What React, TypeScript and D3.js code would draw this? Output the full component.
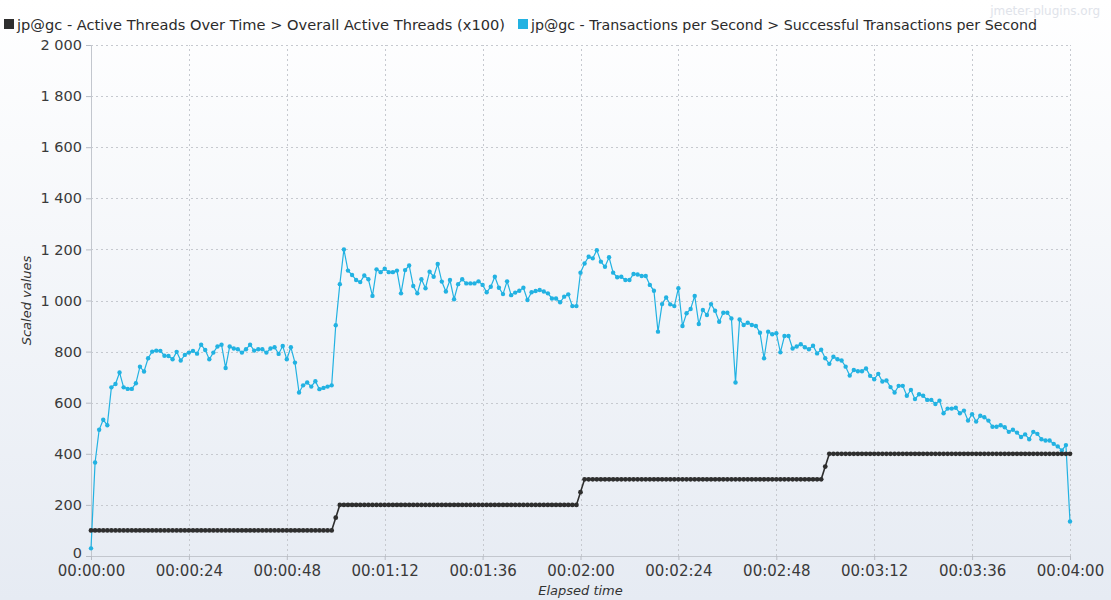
import React, { useEffect, useRef } from 'react'
import * as d3 from 'd3'

// one sample per second, 00:00:00 .. 00:04:00
const sampleStep = 1

// jp@gc - Transactions per Second > Successful Transactions per Second
const successfulTps = [
  30, 366, 494, 533, 512, 660, 673, 718, 660, 654,
  654, 676, 741, 722, 774, 800, 804, 803, 784, 783,
  770, 799, 765, 787, 796, 803, 792, 827, 806, 770,
  796, 820, 827, 736, 820, 812, 809, 796, 809, 827,
  804, 809, 809, 796, 812, 817, 791, 822, 770, 817,
  757, 640, 668, 679, 663, 684, 653, 658, 663, 668,
  903, 1064, 1200, 1117, 1100, 1080, 1072, 1098, 1083, 1018,
  1122, 1111, 1124, 1111, 1111, 1117, 1028, 1119, 1137, 1057,
  1028, 1083, 1048, 1113, 1093, 1143, 1074, 1035, 1080, 1005,
  1064, 1083, 1067, 1067, 1067, 1075, 1061, 1032, 1054, 1093,
  1050, 1025, 1075, 1021, 1031, 1038, 1050, 1002, 1032, 1037,
  1041, 1035, 1028, 1008, 1008, 993, 1015, 1024, 978, 978,
  1109, 1145, 1171, 1165, 1197, 1152, 1132, 1169, 1109, 1091,
  1093, 1080, 1080, 1104, 1102, 1096, 1096, 1061, 1038, 878,
  986, 1012, 985, 978, 1048, 900, 950, 967, 1018, 908,
  963, 943, 986, 960, 917, 952, 952, 930, 679, 926,
  904, 913, 904, 900, 874, 774, 878, 868, 872, 797,
  861, 861, 812, 820, 829, 817, 809, 823, 793, 807,
  774, 752, 780, 770, 765, 741, 706, 728, 723, 723,
  734, 705, 692, 713, 683, 687, 661, 640, 666, 666,
  627, 650, 614, 633, 627, 611, 611, 595, 608, 559,
  577, 577, 580, 559, 569, 530, 555, 526, 549, 543,
  530, 506, 506, 512, 504, 486, 494, 483, 466, 476,
  457, 486, 478, 457, 452, 452, 439, 429, 413, 434,
  135,
]

// jp@gc - Active Threads Over Time > Overall Active Threads (x100)
const activeThreads = [
  100, 100, 100, 100, 100, 100, 100, 100, 100, 100, 100, 100, 100, 100, 100, 100, 100, 100, 100, 100,
  100, 100, 100, 100, 100, 100, 100, 100, 100, 100, 100, 100, 100, 100, 100, 100, 100, 100, 100, 100,
  100, 100, 100, 100, 100, 100, 100, 100, 100, 100, 100, 100, 100, 100, 100, 100, 100, 100, 100, 100,
  150, 200, 200, 200, 200, 200, 200, 200, 200, 200, 200, 200, 200, 200, 200, 200, 200, 200, 200, 200,
  200, 200, 200, 200, 200, 200, 200, 200, 200, 200, 200, 200, 200, 200, 200, 200, 200, 200, 200, 200,
  200, 200, 200, 200, 200, 200, 200, 200, 200, 200, 200, 200, 200, 200, 200, 200, 200, 200, 200, 200,
  250, 300, 300, 300, 300, 300, 300, 300, 300, 300, 300, 300, 300, 300, 300, 300, 300, 300, 300, 300,
  300, 300, 300, 300, 300, 300, 300, 300, 300, 300, 300, 300, 300, 300, 300, 300, 300, 300, 300, 300,
  300, 300, 300, 300, 300, 300, 300, 300, 300, 300, 300, 300, 300, 300, 300, 300, 300, 300, 300, 300,
  350, 400, 400, 400, 400, 400, 400, 400, 400, 400, 400, 400, 400, 400, 400, 400, 400, 400, 400, 400,
  400, 400, 400, 400, 400, 400, 400, 400, 400, 400, 400, 400, 400, 400, 400, 400, 400, 400, 400, 400,
  400, 400, 400, 400, 400, 400, 400, 400, 400, 400, 400, 400, 400, 400, 400, 400, 400, 400, 400, 400,
  400,
]

const legendLabels = [
  'jp@gc - Active Threads Over Time > Overall Active Threads (x100)',
  'jp@gc - Transactions per Second > Successful Transactions per Second',
]
const seriesColors = ['#2e2e2e', '#22b2e2']

const yTicks = [0, 200, 400, 600, 800, 1000, 1200, 1400, 1600, 1800, 2000]
const xTicks = [0, 24, 48, 72, 96, 120, 144, 168, 192, 216, 240]

const W = 1111
const H = 600
const FONT = '"DejaVu Sans", Verdana, sans-serif'

export default function App() {
  const svgRef = useRef<SVGSVGElement>(null)

  useEffect(() => {
    const svg = d3.select(svgRef.current)
    svg.selectAll('*').remove()

    // background gradient
    const grad = svg.append('defs').append('linearGradient')
      .attr('id', 'bg').attr('x1', 0).attr('y1', 0).attr('x2', 0).attr('y2', 1)
    grad.append('stop').attr('offset', '0%').attr('stop-color', '#ffffff')
    grad.append('stop').attr('offset', '100%').attr('stop-color', '#e6ebf3')
    svg.append('rect').attr('width', W).attr('height', H).attr('fill', 'url(#bg)')

    const x = d3.scaleLinear().domain([0, 240]).range([91, 1070])
    const y = d3.scaleLinear().domain([0, 2000]).range([556, 45])

    const spaced = d3.formatLocale({ decimal: '.', thousands: ' ', grouping: [3], currency: ['', ''] }).format(',')
    const hms = (s: number) => {
      const p = (n: number) => String(n).padStart(2, '0')
      return `${p(Math.floor(s / 3600))}:${p(Math.floor((s % 3600) / 60))}:${p(s % 60)}`
    }

    // grid
    const grid = svg.append('g').attr('stroke', '#c6c9cf').attr('stroke-dasharray', '2,3').attr('stroke-width', 1)
    grid.selectAll('.h').data(yTicks.filter(d => d > 0)).join('line')
      .attr('x1', x(0)).attr('x2', x(240))
      .attr('y1', d => Math.round(y(d)) + 0.5).attr('y2', d => Math.round(y(d)) + 0.5)
    grid.selectAll('.v').data(xTicks.filter(d => d > 0)).join('line')
      .attr('y1', y(0)).attr('y2', y(2000))
      .attr('x1', d => Math.round(x(d)) + 0.5).attr('x2', d => Math.round(x(d)) + 0.5)

    // axes
    const yAxis = d3.axisLeft(y).tickValues(yTicks).tickSize(5).tickSizeOuter(0).tickPadding(4)
      .tickFormat(d => spaced(d as number))
    const gy = svg.append('g').attr('transform', `translate(${x(0)},0)`).call(yAxis)
    const xAxis = d3.axisBottom(x).tickValues(xTicks).tickSize(4).tickSizeOuter(0).tickPadding(5)
      .tickFormat(d => hms(d as number))
    const gx = svg.append('g').attr('transform', `translate(0,${y(0)})`).call(xAxis)
    ;[gx, gy].forEach(g => {
      g.select('.domain').attr('stroke', '#c3c7ce')
      g.selectAll('.tick line').attr('stroke', '#b8bcc4')
      g.selectAll('.tick text').attr('fill', '#3a3a3a').style('font-family', FONT)
    })
    gy.selectAll('.tick text').style('font-size', '14.5px')
    // the zero label sits a little higher so it clears the time labels
    gy.selectAll<SVGTextElement, number>('.tick text').filter(d => d === 0).attr('dy', '0.1em')
    gx.selectAll('.tick text').style('font-size', '15px')

    // axis titles
    svg.append('text')
      .attr('transform', `translate(31,${(y(0) + y(2000)) / 2}) rotate(-90)`)
      .attr('text-anchor', 'middle')
      .style('font-family', FONT).style('font-size', '13px').style('font-style', 'italic')
      .attr('fill', '#333').text('Scaled values')
    svg.append('text')
      .attr('x', (x(0) + x(240)) / 2).attr('y', 595)
      .attr('text-anchor', 'middle')
      .style('font-family', FONT).style('font-size', '13px').style('font-style', 'italic')
      .attr('fill', '#333').text('Elapsed time')

    // series
    const line = d3.line<number>().x((_, i) => x(i * sampleStep)).y(d => y(d))
    const series = [
      { values: successfulTps, color: seriesColors[1], width: 1.2, r: 2.2 },
      { values: activeThreads, color: seriesColors[0], width: 1.6, r: 2.4 },
    ]
    series.forEach(s => {
      svg.append('path').datum(s.values).attr('d', line)
        .attr('fill', 'none').attr('stroke', s.color).attr('stroke-width', s.width)
      svg.append('g').selectAll('circle').data(s.values).join('circle')
        .attr('cx', (_, i) => x(i * sampleStep)).attr('cy', d => y(d))
        .attr('r', s.r).attr('fill', s.color)
    })

    // legend
    const legendX = [4, 518]
    const legendWidth = [488, 506]
    legendLabels.forEach((label, i) => {
      svg.append('rect').attr('x', legendX[i]).attr('y', 19).attr('width', 10).attr('height', 10)
        .attr('fill', seriesColors[i])
      svg.append('text').attr('x', legendX[i] + 13).attr('y', 29.5)
        .attr('textLength', legendWidth[i]).attr('lengthAdjust', 'spacingAndGlyphs')
        .style('font-family', FONT).style('font-size', '14.3px').attr('fill', '#2b2b2b')
        .text(label)
    })

    // watermark
    svg.append('text').attr('x', 1100).attr('y', 15).attr('text-anchor', 'end')
      .style('font-family', FONT).style('font-size', '12px').attr('fill', '#e0e3ea')
      .text('jmeter-plugins.org')
  }, [])

  return <svg ref={svgRef} width={W} height={H} style={{ position: 'absolute', left: 0, top: 0, display: 'block' }} />
}
